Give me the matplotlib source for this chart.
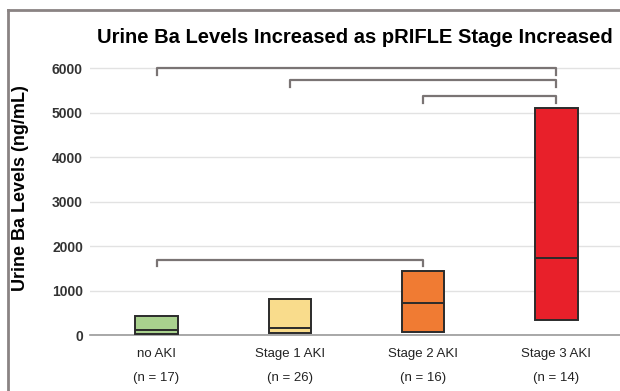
import matplotlib.pyplot as plt
from matplotlib.lines import Line2D

plt.rcParams['font.family'] = ['Liberation Sans', 'DejaVu Sans']

# data (ng/mL)
groups = ["no AKI", "Stage 1 AKI", "Stage 2 AKI", "Stage 3 AKI"]
n_counts = [17, 26, 16, 14]
q1 = [20, 45, 70, 340]
medians = [110, 160, 720, 1730]
q3 = [420, 810, 1440, 5120]
box_colors = ["#a9d18e", "#f9dc8c", "#f07b33", "#e8202a"]

# significance brackets: (left group, right group, height)
brackets = [(0, 3, 6000), (1, 3, 5730), (2, 3, 5370), (0, 2, 1690)]
yticks = [0, 1000, 2000, 3000, 4000, 5000, 6000]

fig = plt.figure(figsize=(6.2, 3.91), dpi=100)
ax = fig.add_axes([0.145, 0.143, 0.86, 0.716])

x = list(range(len(groups)))
heights = [b - a for a, b in zip(q1, q3)]
ax.bar(x, heights, bottom=q1, width=0.32, color=box_colors,
       edgecolor="#2b2b2b", linewidth=1.4, zorder=3)
ax.hlines(medians, [i - 0.16 for i in x], [i + 0.16 for i in x],
          color="#2b2b2b", linewidth=1.4, zorder=4)

tick = 140
for a, b, h in brackets:
    ax.plot([a, a, b, b], [h - tick, h, h, h - tick], color="#7a7474",
            linewidth=1.6, clip_on=False, zorder=2)

ax.set_xlim(-0.5, 3.5)
ax.set_ylim(0, 6300)
ax.set_yticks(yticks)
ax.set_yticklabels([str(v) for v in yticks], fontsize=10, fontweight="bold",
                   color="#333333")
ax.set_xticks(x)
ax.set_xticklabels([f"{g}\n\n(n = {n})" for g, n in zip(groups, n_counts)],
                   fontsize=9.5, color="#222222", linespacing=1.0)
ax.tick_params(length=0, pad=5)
ax.tick_params(axis="x", pad=9)

ax.grid(axis="y", color="#e2e2e2", linewidth=1.0, zorder=0)
for s in ["top", "right", "left"]:
    ax.spines[s].set_visible(False)
ax.spines["bottom"].set_color("#9a9a9a")
ax.spines["bottom"].set_linewidth(1.2)

ax.set_ylabel("Urine Ba Levels (ng/mL)", fontsize=13, fontweight="bold")
ax.yaxis.set_label_coords(-0.115, 0.525)
fig.text(0.573, 0.905, "Urine Ba Levels Increased as pRIFLE Stage Increased",
         ha="center", va="center", fontsize=14.5, fontweight="bold")

# scanned figure frame (top and left edges)
fig.add_artist(Line2D([0.013, 0.013], [0, 0.974], color="#8a8383", linewidth=2))
fig.add_artist(Line2D([0.013, 1.0], [0.974, 0.974], color="#8a8383", linewidth=2))

fig.savefig("out.png", dpi=100)
plt.close(fig)
